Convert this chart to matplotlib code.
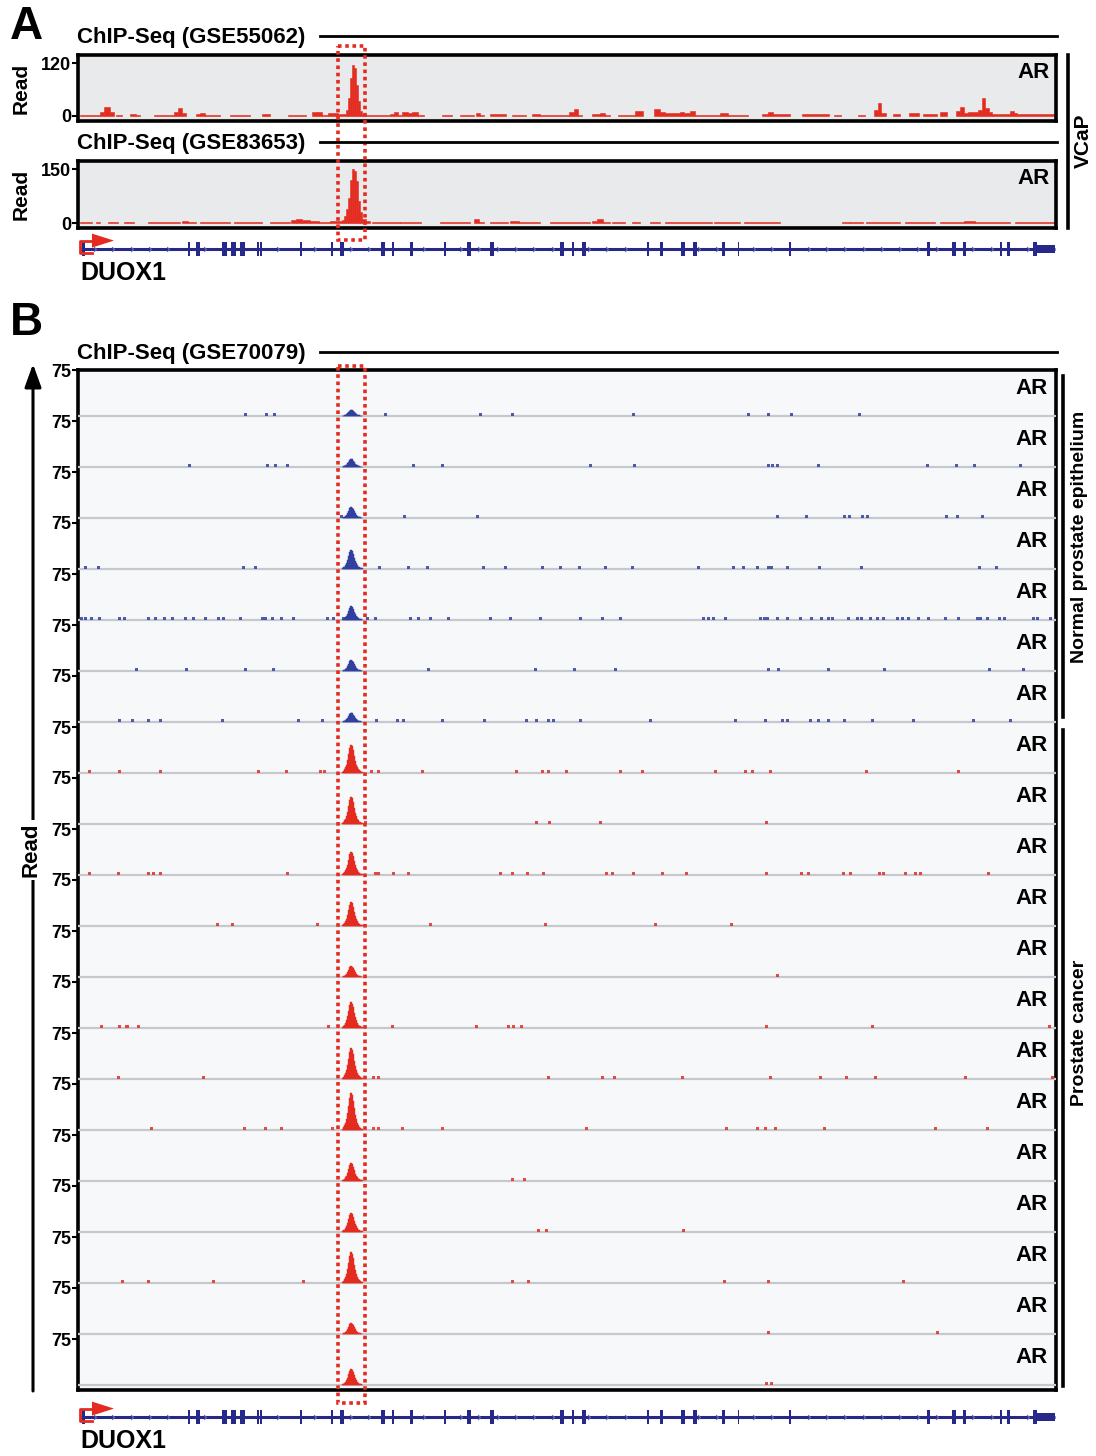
import matplotlib
matplotlib.use("Agg")
import matplotlib.pyplot as plt
import matplotlib.transforms as mtransforms
from matplotlib.patches import Rectangle, Polygon
from matplotlib.path import Path
import numpy as np

plt.rcParams["font.family"] = ["Liberation Sans", "DejaVu Sans"]
plt.rcParams["font.weight"] = "bold"

W, H = 1096, 1456
LOCUS = (78, 1056)          # locus coordinate range shown in every track

# ---- panel A: VCaP AR ChIP-seq coverage, segments of (start, end, reads)
GSE55062_SEG = [
    (80, 100, 2), (100, 104, 8), (104, 110, 21), (110, 114, 10), (116, 122, 2),
    (130, 136, 4), (136, 140, 2), (154, 174, 2), (174, 178, 10), (178, 182, 17),
    (182, 186, 6), (196, 200, 4), (200, 205, 6), (205, 220, 2), (230, 250, 2),
    (262, 270, 4), (288, 306, 3), (312, 318, 8), (318, 322, 10), (322, 328, 3),
    (328, 338, 6), (338, 346, 4),
    (346, 348, 14), (348, 350, 40), (350, 352, 85), (352, 354, 115), (354, 356, 108),
    (356, 358, 70), (358, 360, 35), (360, 362, 12), (362, 366, 4),
    (366, 390, 2), (390, 394, 5), (394, 398, 8), (398, 402, 2), (402, 408, 8),
    (408, 412, 6), (412, 418, 9), (418, 424, 3), (442, 452, 2), (460, 474, 3),
    (476, 480, 7), (480, 484, 2), (490, 506, 4), (512, 526, 2), (532, 540, 5),
    (540, 569, 2), (569, 574, 8), (574, 578, 15), (578, 582, 3), (592, 600, 4),
    (600, 605, 6), (605, 610, 3), (618, 635, 2), (635, 643, 11), (654, 660, 16),
    (660, 665, 9), (665, 680, 6), (680, 684, 9), (684, 690, 6), (690, 695, 12),
    (695, 720, 2), (720, 728, 6), (728, 748, 2), (762, 768, 5), (768, 773, 9),
    (773, 790, 5), (802, 829, 4), (834, 841, 3), (858, 865, 3), (874, 878, 14),
    (878, 881, 30), (881, 886, 6), (893, 900, 4), (909, 919, 6), (923, 937, 5),
    (940, 947, 8), (956, 960, 12), (960, 964, 20), (964, 968, 6), (968, 978, 8),
    (978, 982, 14), (982, 985, 40), (985, 989, 18), (989, 992, 8), (992, 1010, 5),
    (1010, 1014, 12), (1014, 1017, 6), (1017, 1055, 4),
]
GSE83653_SEG = [
    (80, 92, 2), (96, 100, 2), (108, 118, 2), (124, 134, 2), (148, 180, 2),
    (182, 188, 5), (188, 196, 3), (200, 230, 2), (234, 262, 2), (270, 290, 2),
    (291, 296, 8), (296, 302, 12), (302, 310, 9), (310, 319, 6), (319, 330, 3),
    (330, 342, 5),
    (342, 344, 8), (344, 346, 20), (346, 348, 40), (348, 350, 70), (350, 352, 120),
    (352, 354, 150), (354, 356, 145), (356, 358, 118), (358, 360, 60), (360, 362, 30),
    (362, 366, 12), (366, 370, 6),
    (372, 400, 4), (400, 421, 3), (440, 470, 2), (474, 479, 12), (479, 484, 4),
    (490, 508, 2), (510, 519, 5), (519, 540, 2), (550, 590, 2), (592, 597, 5),
    (597, 603, 11), (603, 610, 4), (612, 625, 2), (632, 640, 2), (650, 660, 2),
    (665, 712, 3), (714, 740, 2), (744, 780, 2), (842, 850, 3), (850, 863, 4),
    (866, 900, 2), (905, 935, 2), (940, 964, 3), (964, 975, 6), (975, 1010, 4),
    (1015, 1055, 3),
]
GSE55062_YMAX = 120
GSE83653_YMAX = 150

# ---- panel B: GSE70079, 7 normal prostate epithelium + 13 prostate cancer
N_NORMAL = 7
B_YMAX = 75
PEAK_READS = [10, 13, 18, 31, 23, 18, 15,
              46, 44, 38, 39, 18, 42, 50, 60, 29, 31, 50, 18, 26]
PEAK_POS = [343, 344, 345, 346, 347, 348, 349, 350, 351, 352,
            353, 354, 355, 356, 357, 358, 359, 360, 361, 362]
PEAK_SHAPE = [0.04, 0.08, 0.13, 0.20, 0.30, 0.45, 0.66, 0.88, 1.00, 0.95,
              0.80, 0.60, 0.42, 0.30, 0.20, 0.13, 0.09, 0.06, 0.04, 0.03]
BLIP_READS = 5
BLIPS = [
    [245, 266, 274, 385, 480, 512, 633, 748, 768, 791, 859],
    [189, 267, 275, 287, 413, 442, 590, 634, 768, 772, 777, 818, 927, 956, 974, 1020],
    [341, 404, 477, 777, 806, 844, 849, 862, 867, 946, 957, 982],
    [86, 99, 243, 255, 379, 408, 427, 483, 505, 542, 560, 579, 605, 632, 698, 733,
     743, 757, 768, 771, 787, 819, 861, 979, 996],
    [82, 86, 92, 100, 120, 125, 148, 155, 164, 172, 185, 193, 205, 218, 223, 240,
     262, 265, 272, 281, 293, 327, 333, 343, 367, 375, 410, 418, 430, 448, 490, 510,
     540, 580, 602, 620, 703, 708, 713, 725, 760, 764, 767, 777, 787, 800, 811, 821,
     828, 832, 848, 857, 861, 870, 877, 883, 897, 902, 908, 918, 928, 945, 958, 977,
     980, 987, 999, 1004, 1033, 1037, 1050],
    [136, 186, 245, 273, 428, 535, 574, 615, 768, 778, 828, 884, 989, 1023],
    [120, 132, 148, 160, 222, 298, 322, 376, 397, 403, 442, 484, 526, 536, 548, 553,
     580, 650, 735, 765, 782, 787, 810, 818, 828, 844, 872, 913, 973, 1010],
    [90, 120, 160, 258, 286, 320, 324, 371, 378, 422, 516, 542, 548, 566, 620, 642,
     715, 745, 752, 770, 866, 958],
    [365, 536, 549, 600, 766],
    [90, 119, 148, 153, 160, 287, 375, 378, 393, 408, 500, 512, 527, 543, 606, 612,
     633, 662, 686, 766, 801, 808, 843, 850, 879, 883, 905, 915, 920, 988],
    [217, 232, 317, 430, 545, 655, 731],
    [777],
    [102, 120, 127, 138, 328, 392, 476, 508, 513, 521, 766, 872, 1049],
    [119, 203, 373, 378, 548, 602, 614, 682, 770, 820, 846, 875, 965, 1052],
    [151, 244, 265, 281, 332, 373, 378, 402, 442, 586, 726, 757, 765, 775, 824, 935, 987],
    [512, 524],
    [538, 546, 683],
    [123, 148, 213, 303, 512, 528, 724, 768, 903],
    [768, 937],
    [766, 771],
]

# ---- DUOX1 gene model
GENE_SPAN = (80, 1055)
TSS = 80
EXONS = [(82, 85), (188, 190), (196, 200), (222, 227), (231, 236), (240, 245),
         (257, 258.5), (260, 261.5), (300, 302), (330.5, 332.5), (340, 344),
         (381, 385), (391.5, 394), (410, 413), (443.5, 445.5), (467, 471), (490, 494),
         (560, 564), (572, 574), (582, 586), (646.5, 648.5), (660, 662.5), (681, 685),
         (692.5, 696.5), (722, 724.5), (737.5, 738.5), (788.5, 791), (927, 929.5),
         (952, 956), (963, 965.5), (999.5, 1002), (1007, 1009.5), (1033, 1037)]
UTR3 = (1037, 1055)
HIGHLIGHT = (338, 365)

RED = "#e42b1f"
BLUE = "#31409e"
NAVY = "#27298a"

fig = plt.figure(figsize=(W / 100, H / 100), dpi=100)


def px_axes(x0, y0, x1, y1):
    return fig.add_axes([x0 / W, 1 - y1 / H, (x1 - x0) / W, (y1 - y0) / H])


def coverage_track(y0, y1, segs, ymax):
    ax = px_axes(78, y0, 1056, y1)
    ax.set_facecolor("#e9eaec")
    starts = [s[0] for s in segs]
    widths = [s[1] - s[0] for s in segs]
    reads = [s[2] for s in segs]
    ax.bar(starts, reads, width=widths, align="edge", color=RED,
           edgecolor=RED, linewidth=0.4)
    ax.set_xlim(*LOCUS)
    per_px = ymax / (y1 - y0 - 13)
    ax.set_ylim(-5 * per_px, ymax + 8 * per_px)
    ax.set_xticks([])
    ax.set_yticks([0, ymax])
    ax.tick_params(axis="y", labelsize=13, length=4, width=1.5, pad=1)
    for s in ax.spines.values():
        s.set_linewidth(2.6)
    ax.set_ylabel("Read", fontsize=15, fontweight="bold")
    ax.yaxis.set_label_coords(-0.048, 0.5)
    ax.text(0.994, 0.9, "AR", transform=ax.transAxes, ha="right", va="top",
            fontsize=16, fontweight="bold")
    return ax


def gene_track(yc):
    ax = px_axes(78, yc - 14, 1056, yc + 14)
    ax.set_xlim(*LOCUS)
    ax.set_ylim(-1, 1)
    ax.axis("off")
    ax.plot(GENE_SPAN, [0, 0], color=NAVY, lw=2.2, solid_capstyle="butt")
    for s, e in EXONS:
        ax.add_patch(Rectangle((s, -0.5), e - s, 1.0, color=NAVY, lw=0))
    ax.add_patch(Rectangle((UTR3[0], -0.32), UTR3[1] - UTR3[0], 0.64, color=NAVY, lw=0))
    # intron direction chevrons
    chev = Path([(-1, 1), (0, 0), (-1, -1)], [Path.MOVETO, Path.LINETO, Path.LINETO])
    cx = [c for c in np.arange(96, 1030, 18.3)
          if all(c < s - 3 or c > e + 3 for s, e in EXONS)]
    ax.plot(cx, np.zeros(len(cx)), ls="none", marker=chev, ms=3.5,
            mfc="none", mec="#6a6cb0", mew=0.8)
    # TSS arrow
    ax.plot([TSS + 12, TSS, TSS, TSS + 12], [-0.3, -0.3, 0.6, 0.6], color=RED, lw=2)
    ax.add_patch(Polygon([(TSS + 12, 0.1), (TSS + 12, 1.1), (TSS + 34, 0.6)],
                         closed=True, color=RED, lw=0, clip_on=False))
    return ax


# ---------------- panel A
t1 = coverage_track(55, 121, GSE55062_SEG, GSE55062_YMAX)
t2 = coverage_track(161, 228, GSE83653_SEG, GSE83653_YMAX)
gene_track(249)

# ---------------- panel B
frame = px_axes(78, 370, 1056, 1390)
frame.set_facecolor("#f7f8f9")
frame.set_xticks([])
frame.set_yticks([])
for s in frame.spines.values():
    s.set_linewidth(2.6)

per_px = B_YMAX / 46
for i in range(len(PEAK_READS)):
    y0 = 370 + 51 * i
    ax = px_axes(78, y0, 1056, y0 + 51)
    ax.patch.set_alpha(0)
    for s in ax.spines.values():
        s.set_visible(False)
    col = BLUE if i < N_NORMAL else RED
    ax.axhline(0, color="#c6c8cf", lw=1.6, zorder=1)
    ax.bar(PEAK_POS, [v * PEAK_READS[i] for v in PEAK_SHAPE], width=1.05,
           color=col, edgecolor=col, linewidth=0.3, zorder=2)
    ax.bar(BLIPS[i], [BLIP_READS] * len(BLIPS[i]), width=3.0,
           color=col, alpha=0.85, linewidth=0, zorder=2)
    ax.set_xlim(*LOCUS)
    ax.set_ylim(-5 * per_px, B_YMAX)
    ax.set_xticks([])
    ax.set_yticks([B_YMAX])
    ax.tick_params(axis="y", labelsize=13, length=4, width=1.5, pad=1)
    ax.text(0.992, 0.85, "AR", transform=ax.transAxes, ha="right", va="top",
            fontsize=16, fontweight="bold")

gene_track(1417)

# ---------------- annotations in pixel space
ov = fig.add_axes([0, 0, 1, 1])
ov.set_xlim(0, W)
ov.set_ylim(H, 0)
ov.axis("off")

ov.text(10, 27, "A", fontsize=33, fontweight="bold", va="center", ha="left")
ov.text(10, 323, "B", fontsize=33, fontweight="bold", va="center", ha="left")

for title, y in [("ChIP-Seq (GSE55062)", 37), ("ChIP-Seq (GSE83653)", 143),
                 ("ChIP-Seq (GSE70079)", 353)]:
    ov.text(77, y, title, fontsize=16, fontweight="bold", va="center", ha="left")
    ov.plot([320, 1057], [y - 1, y - 1], color="black", lw=2)

for label, y in [("DUOX1", 273), ("DUOX1", 1441)]:
    ov.text(80, y, label, fontsize=18, fontweight="bold", va="center", ha="left")

# side brackets
ov.plot([1068, 1068], [55, 228], color="black", lw=2.6)
ov.text(1083, 141, "VCaP", rotation=90, fontsize=15, fontweight="bold",
        va="center", ha="center")
ov.plot([1063, 1063], [376, 717], color="black", lw=2.6)
ov.text(1079, 537, "Normal prostate epithelium", rotation=90, fontsize=14,
        fontweight="bold", va="center", ha="center")
ov.plot([1063, 1063], [730, 1386], color="black", lw=2.6)
ov.text(1079, 1033, "Prostate cancer", rotation=90, fontsize=14,
        fontweight="bold", va="center", ha="center")

# Read axis arrow for panel B
ov.annotate("", xy=(33, 364), xytext=(33, 1391),
            arrowprops=dict(arrowstyle="-|>,head_length=1.0,head_width=0.36",
                            mutation_scale=14, lw=2.2, color="black",
                            shrinkA=0, shrinkB=0))
ov.text(31, 850, "Read", rotation=90, fontsize=16, fontweight="bold",
        va="center", ha="center",
        bbox=dict(facecolor="white", edgecolor="none", pad=2))

# highlighted peak region (dotted red boxes)
trans = mtransforms.blended_transform_factory(t1.transData, ov.transData)
for y0, y1 in [(46, 240), (366, 1403)]:
    ov.add_patch(Rectangle((HIGHLIGHT[0], y0), HIGHLIGHT[1] - HIGHLIGHT[0], y1 - y0,
                           transform=trans, fill=False, edgecolor=RED, lw=2.6,
                           ls=(0, (1, 1)), clip_on=False))

fig.savefig("out.png", dpi=100)
